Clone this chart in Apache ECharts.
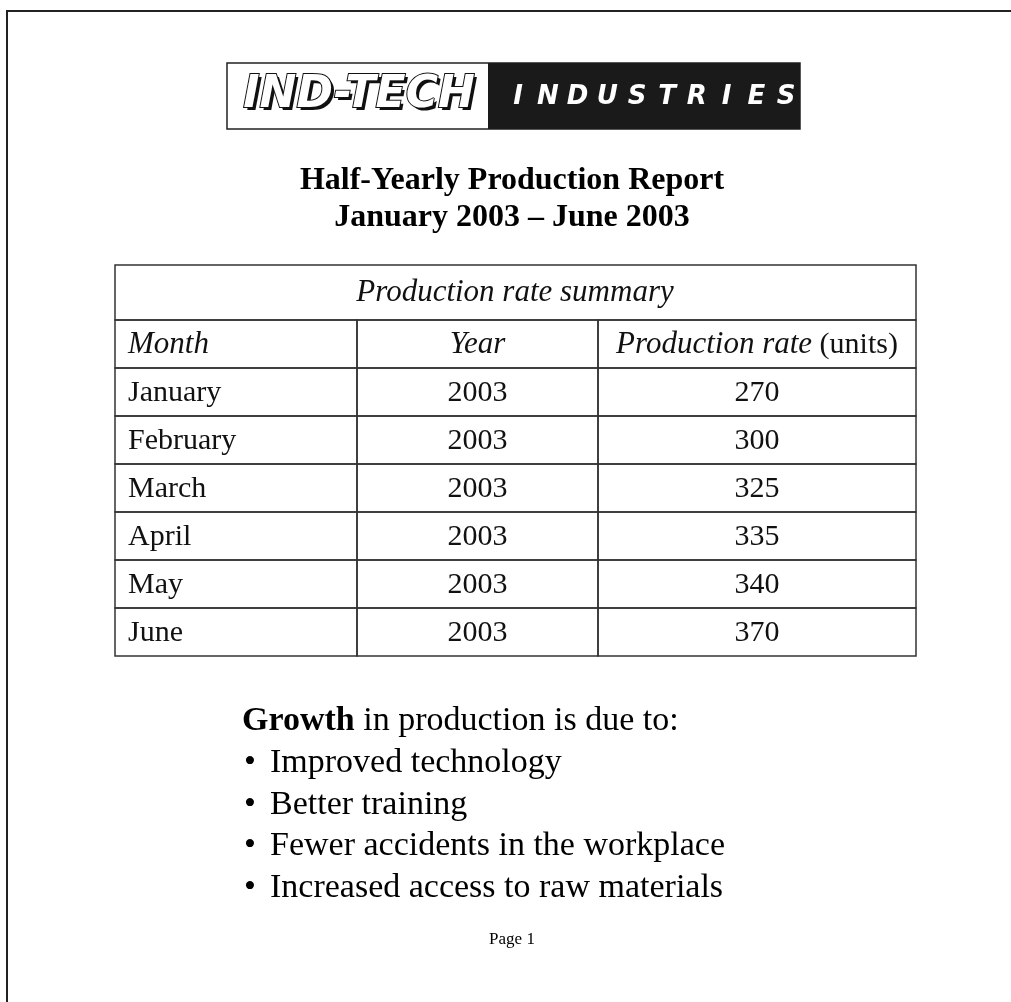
<!DOCTYPE html>
<html>
<head>
<meta charset="utf-8">
<title>Half-Yearly Production Report</title>
<script src="https://cdn.jsdelivr.net/npm/echarts@6/dist/echarts.min.js"></script>
<style>
  html, body { margin: 0; padding: 0; background: #fff; }
  #main { width: 1011px; height: 1002px; }
</style>
</head>
<body>
<div id="main"></div>
<script>
// report data
const months = ['January', 'February', 'March', 'April', 'May', 'June'];
const years = [2003, 2003, 2003, 2003, 2003, 2003];
const rates = [270, 300, 325, 335, 340, 370];
const headers = ['Month', 'Year', 'Production rate'];
const headerUnit = ' (units)';
const tableTitle = 'Production rate summary';
const titleLines = ['Half-Yearly Production Report', 'January 2003 \u2013 June 2003'];
const bullets = [
  'Improved technology',
  'Better training',
  'Fewer accidents in the workplace',
  'Increased access to raw materials',
];

// layout
const SERIF = '"Liberation Serif", "Times New Roman", serif';
const colEdges = [0, 242, 483, 801]; // table column boundaries (grid units = px)
const LINE = '#333';

const rows = ['header', ...months];
const cells = [];
rows.forEach((r, ri) => {
  for (let c = 0; c < 3; c++) cells.push([c, ri]);
});

function cellText(c, ri) {
  if (ri === 0) {
    if (c === 2) return '{i|' + headers[2] + '}{n|' + headerUnit + '}';
    return '{i|' + headers[c] + '}';
  }
  const k = ri - 1;
  if (c === 0) return '{n|' + months[k] + '}';
  if (c === 1) return '{n|' + years[k] + '}';
  return '{n|' + rates[k] + '}';
}

const chart = echarts.init(document.getElementById('main'), null, { renderer: 'canvas' });

const industries = 'INDUSTRIES'.split('').map((ch, i) => ({
  type: 'text',
  style: {
    text: ch, x: 518 + i * 29.8, y: 97,
    fill: '#fff', align: 'center', verticalAlign: 'middle',
    font: 'italic 900 26px "DejaVu Sans", sans-serif',
  },
}));

chart.setOption({
  animation: false,
  backgroundColor: '#fff',
  grid: { left: 115, top: 320, width: 801, height: 336 },
  xAxis: { type: 'value', min: 0, max: 801, show: false },
  yAxis: { type: 'category', data: rows, inverse: true, show: false },
  graphic: [
    // page border
    { type: 'polyline', shape: { points: [[7, 1002], [7, 11], [1011, 11]] },
      style: { stroke: '#222', lineWidth: 2, fill: null } },
    // logo
    { type: 'rect', shape: { x: 227, y: 63, width: 573, height: 66 },
      style: { fill: '#fff', stroke: '#222', lineWidth: 1.5 } },
    { type: 'rect', shape: { x: 488, y: 63, width: 312, height: 66 },
      style: { fill: '#1a1a1a' } },
    { type: 'text', style: { text: 'IND-TECH', x: 362, y: 99, align: 'center', verticalAlign: 'middle',
      fill: '#111', font: 'italic bold 44px "DejaVu Sans", sans-serif' } },
    { type: 'text', style: { text: 'IND-TECH', x: 359, y: 96, align: 'center', verticalAlign: 'middle',
      fill: '#fff', stroke: '#111', lineWidth: 2, font: 'italic bold 44px "DejaVu Sans", sans-serif' } },
    ...industries,
    // title
    { type: 'text', style: { text: titleLines[0], x: 512, y: 181, align: 'center', verticalAlign: 'middle',
      fill: '#000', font: 'bold 32px ' + SERIF } },
    { type: 'text', style: { text: titleLines[1], x: 512, y: 218, align: 'center', verticalAlign: 'middle',
      fill: '#000', font: 'bold 32px ' + SERIF } },
    // table caption row
    { type: 'rect', shape: { x: 115, y: 265, width: 801, height: 55 },
      style: { fill: 'none', stroke: LINE, lineWidth: 1.5 } },
    { type: 'text', style: { text: tableTitle, x: 515, y: 293, align: 'center', verticalAlign: 'middle',
      fill: '#111', font: 'italic 31px ' + SERIF } },
    // notes
    { type: 'text', style: {
      text: '{b|Growth}{n| in production is due to:}', x: 242, y: 721, verticalAlign: 'middle',
      rich: { b: { font: 'bold 34px ' + SERIF, fill: '#000' }, n: { font: '34px ' + SERIF, fill: '#000' } } } },
    ...bullets.flatMap((b, i) => [
      { type: 'text', style: { text: '\u2022', x: 250, y: 763 + i * 41.7, align: 'center', verticalAlign: 'middle',
        fill: '#000', font: '34px ' + SERIF } },
      { type: 'text', style: { text: b, x: 270, y: 763 + i * 41.7, verticalAlign: 'middle',
        fill: '#000', font: '34px ' + SERIF } },
    ]),
    { type: 'text', style: { text: 'Page 1', x: 512, y: 940, align: 'center', verticalAlign: 'middle',
      fill: '#000', font: '17px ' + SERIF } },
  ],
  series: [{
    type: 'custom',
    coordinateSystem: 'cartesian2d',
    data: cells,
    encode: { x: 0, y: 1 },
    renderItem: (params, api) => {
      const c = api.value(0);
      const ri = api.value(1);
      const left = api.coord([colEdges[c], ri]);
      const right = api.coord([colEdges[c + 1], ri]);
      const h = api.size([0, 1])[1];
      const top = left[1] - h / 2;
      const tx = c === 0 ? left[0] + 13 : (left[0] + right[0]) / 2;
      return {
        type: 'group',
        children: [
          { type: 'rect', shape: { x: left[0], y: top, width: right[0] - left[0], height: h },
            style: { fill: 'none', stroke: LINE, lineWidth: 1.5 } },
          { type: 'text', style: {
            text: cellText(c, ri), x: tx, y: left[1] + 1,
            align: c === 0 ? 'left' : 'center', verticalAlign: 'middle',
            rich: {
              i: { font: 'italic 31px ' + SERIF, fill: '#111' },
              n: { font: '30px ' + SERIF, fill: '#111' },
            },
          } },
        ],
      };
    },
  }],
});
</script>
</body>
</html>
